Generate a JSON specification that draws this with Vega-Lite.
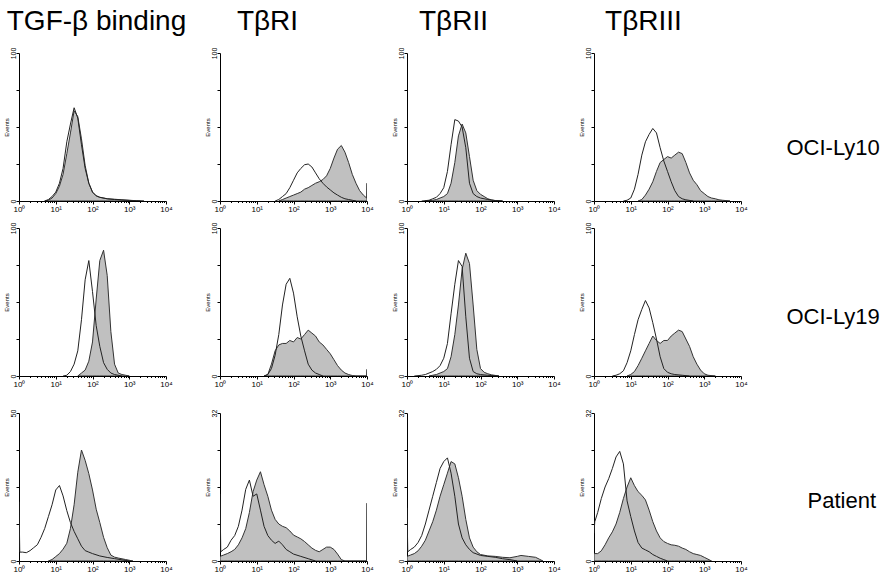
{
"$schema":"https://vega.github.io/schema/vega-lite/v6.json",
"padding":{"left":3,"top":8,"right":0,"bottom":0},
"background":"white",
"datasets":{
"A1s":[{"x":5.01,"y":0},{"x":6.31,"y":0.5},{"x":7.94,"y":2},{"x":10,"y":5},{"x":12.6,"y":10},{"x":15.8,"y":18},{"x":20,"y":32},{"x":25.1,"y":46},{"x":31.6,"y":61},{"x":39.8,"y":57},{"x":50.1,"y":42},{"x":63.1,"y":24},{"x":79.4,"y":12},{"x":100,"y":6},{"x":126,"y":3.5},{"x":158,"y":2.5},{"x":251,"y":1.5},{"x":398,"y":1.2},{"x":631,"y":0.8},{"x":1000,"y":0.5},{"x":1580,"y":0.2},{"x":2510,"y":0}],
"A1c":[{"x":5.01,"y":0},{"x":6.31,"y":1},{"x":7.94,"y":3},{"x":10,"y":6},{"x":12.6,"y":12},{"x":15.8,"y":22},{"x":20,"y":40},{"x":25.1,"y":52},{"x":31.6,"y":63},{"x":39.8,"y":56},{"x":50.1,"y":38},{"x":63.1,"y":22},{"x":79.4,"y":12},{"x":100,"y":6},{"x":126,"y":3.5},{"x":158,"y":2.5},{"x":251,"y":1.5},{"x":398,"y":1},{"x":631,"y":0.7},{"x":1000,"y":0.4},{"x":2000,"y":0}],
"B1s":[{"x":39.8,"y":0},{"x":50.1,"y":1},{"x":63.1,"y":2},{"x":79.4,"y":3},{"x":100,"y":4},{"x":126,"y":5},{"x":158,"y":6},{"x":200,"y":8},{"x":251,"y":9},{"x":316,"y":10.5},{"x":398,"y":12},{"x":501,"y":13},{"x":631,"y":14.5},{"x":794,"y":17},{"x":1000,"y":22},{"x":1260,"y":29},{"x":1580,"y":35},{"x":2000,"y":37.5},{"x":2510,"y":33},{"x":3160,"y":26},{"x":3980,"y":18},{"x":5010,"y":12},{"x":6310,"y":7},{"x":7940,"y":4},{"x":9770,"y":2},{"x":10000,"y":12}],
"B1c":[{"x":31.6,"y":0},{"x":39.8,"y":1},{"x":50.1,"y":3},{"x":63.1,"y":5},{"x":79.4,"y":9},{"x":100,"y":14},{"x":126,"y":19},{"x":158,"y":22},{"x":200,"y":24.5},{"x":251,"y":25},{"x":316,"y":23},{"x":398,"y":19},{"x":501,"y":15},{"x":631,"y":12},{"x":794,"y":9.5},{"x":1000,"y":7.5},{"x":1260,"y":5.5},{"x":1580,"y":4},{"x":2000,"y":2.5},{"x":2510,"y":1.5},{"x":3160,"y":1},{"x":3980,"y":0.5},{"x":5010,"y":0}],
"C1s":[{"x":3.16,"y":0},{"x":5.01,"y":0.5},{"x":6.31,"y":1},{"x":7.94,"y":2},{"x":10,"y":3},{"x":12.6,"y":5},{"x":15.8,"y":12},{"x":20,"y":26},{"x":25.1,"y":44},{"x":31.6,"y":52},{"x":39.8,"y":46},{"x":50.1,"y":30},{"x":63.1,"y":14},{"x":79.4,"y":7},{"x":100,"y":4.5},{"x":126,"y":3},{"x":158,"y":1.5},{"x":200,"y":0.7},{"x":251,"y":0.3},{"x":398,"y":0}],
"C1c":[{"x":2.51,"y":0},{"x":3.98,"y":0.5},{"x":5.01,"y":1.5},{"x":6.31,"y":2.5},{"x":7.94,"y":5},{"x":10,"y":9},{"x":12.6,"y":20},{"x":15.8,"y":38},{"x":20,"y":55},{"x":25.1,"y":54},{"x":31.6,"y":50},{"x":39.8,"y":36},{"x":50.1,"y":12},{"x":63.1,"y":5},{"x":79.4,"y":3},{"x":100,"y":2},{"x":158,"y":1},{"x":251,"y":0.3},{"x":398,"y":0}],
"D1s":[{"x":15.8,"y":0},{"x":20,"y":1},{"x":25.1,"y":4},{"x":31.6,"y":8},{"x":39.8,"y":13},{"x":50.1,"y":20},{"x":63.1,"y":26},{"x":79.4,"y":28},{"x":100,"y":30},{"x":126,"y":29},{"x":158,"y":31},{"x":200,"y":33},{"x":251,"y":32},{"x":316,"y":26},{"x":398,"y":19},{"x":501,"y":14},{"x":631,"y":11},{"x":794,"y":7},{"x":1000,"y":5},{"x":1260,"y":3},{"x":1580,"y":2},{"x":2000,"y":1.5},{"x":2510,"y":0.8},{"x":3160,"y":0.5},{"x":5010,"y":0}],
"D1c":[{"x":6.31,"y":0},{"x":7.94,"y":0.5},{"x":10,"y":2},{"x":12.6,"y":8},{"x":15.8,"y":18},{"x":20,"y":31},{"x":25.1,"y":40},{"x":31.6,"y":45},{"x":39.8,"y":49},{"x":50.1,"y":46},{"x":63.1,"y":36},{"x":79.4,"y":27},{"x":100,"y":20},{"x":126,"y":13},{"x":158,"y":7},{"x":200,"y":3},{"x":251,"y":1.5},{"x":316,"y":0.8},{"x":501,"y":0}],
"A2s":[{"x":39.8,"y":0},{"x":50.1,"y":2},{"x":63.1,"y":4},{"x":79.4,"y":10},{"x":100,"y":23},{"x":126,"y":52},{"x":158,"y":78},{"x":200,"y":85},{"x":251,"y":68},{"x":316,"y":30},{"x":398,"y":8},{"x":501,"y":2},{"x":631,"y":1},{"x":794,"y":0.5},{"x":1000,"y":0}],
"A2c":[{"x":15.8,"y":0},{"x":20,"y":0.5},{"x":25.1,"y":3},{"x":31.6,"y":8},{"x":39.8,"y":17},{"x":50.1,"y":38},{"x":63.1,"y":65},{"x":79.4,"y":78},{"x":100,"y":57},{"x":126,"y":34},{"x":158,"y":20},{"x":200,"y":9},{"x":251,"y":4.5},{"x":316,"y":2},{"x":398,"y":1},{"x":631,"y":0}],
"B2s":[{"x":15.8,"y":0},{"x":20,"y":1},{"x":25.1,"y":8},{"x":31.6,"y":17},{"x":39.8,"y":21},{"x":50.1,"y":22},{"x":63.1,"y":22},{"x":79.4,"y":24},{"x":100,"y":23},{"x":126,"y":26},{"x":158,"y":25},{"x":200,"y":28},{"x":251,"y":31},{"x":316,"y":29},{"x":398,"y":27},{"x":501,"y":23},{"x":631,"y":21},{"x":794,"y":18},{"x":1000,"y":15},{"x":1260,"y":11},{"x":1580,"y":7},{"x":2000,"y":4},{"x":2510,"y":2},{"x":3160,"y":1},{"x":3980,"y":0.3},{"x":5010,"y":0},{"x":9770,"y":0},{"x":10000,"y":4.5}],
"B2c":[{"x":15.8,"y":0},{"x":20,"y":1},{"x":25.1,"y":5},{"x":31.6,"y":14},{"x":39.8,"y":28},{"x":50.1,"y":48},{"x":63.1,"y":62},{"x":79.4,"y":66},{"x":100,"y":56},{"x":126,"y":40},{"x":158,"y":27},{"x":200,"y":17},{"x":251,"y":8},{"x":316,"y":4},{"x":398,"y":2},{"x":501,"y":1},{"x":631,"y":0}],
"C2s":[{"x":3.98,"y":0},{"x":5.01,"y":0.5},{"x":6.31,"y":1},{"x":7.94,"y":2},{"x":10,"y":3},{"x":12.6,"y":5},{"x":15.8,"y":13},{"x":20,"y":28},{"x":25.1,"y":48},{"x":31.6,"y":72},{"x":39.8,"y":83},{"x":50.1,"y":76},{"x":63.1,"y":48},{"x":79.4,"y":18},{"x":100,"y":5},{"x":126,"y":2.5},{"x":158,"y":1.5},{"x":200,"y":0.8},{"x":316,"y":0}],
"C2c":[{"x":1.58,"y":0},{"x":2.51,"y":0.5},{"x":3.16,"y":1},{"x":3.98,"y":2},{"x":5.01,"y":3},{"x":6.31,"y":4.5},{"x":7.94,"y":7},{"x":10,"y":12},{"x":12.6,"y":22},{"x":15.8,"y":42},{"x":20,"y":62},{"x":25.1,"y":78},{"x":31.6,"y":74},{"x":39.8,"y":40},{"x":50.1,"y":12},{"x":63.1,"y":3},{"x":79.4,"y":1.5},{"x":100,"y":1},{"x":158,"y":0.5},{"x":316,"y":0}],
"D2s":[{"x":7.94,"y":0},{"x":10,"y":1},{"x":12.6,"y":3},{"x":15.8,"y":7},{"x":20,"y":12},{"x":25.1,"y":17},{"x":31.6,"y":22},{"x":39.8,"y":27},{"x":50.1,"y":24},{"x":63.1,"y":22},{"x":79.4,"y":24},{"x":100,"y":24},{"x":126,"y":27},{"x":158,"y":29},{"x":200,"y":31},{"x":251,"y":30},{"x":316,"y":25},{"x":398,"y":20},{"x":501,"y":13},{"x":631,"y":8},{"x":794,"y":4},{"x":1000,"y":1.5},{"x":1260,"y":0.5},{"x":2000,"y":0}],
"D2c":[{"x":3.16,"y":0},{"x":3.98,"y":0.5},{"x":5.01,"y":1.5},{"x":6.31,"y":3.5},{"x":7.94,"y":9},{"x":10,"y":17},{"x":12.6,"y":28},{"x":15.8,"y":38},{"x":20,"y":45},{"x":25.1,"y":51},{"x":31.6,"y":46},{"x":39.8,"y":36},{"x":50.1,"y":25},{"x":63.1,"y":13},{"x":79.4,"y":5},{"x":100,"y":2.5},{"x":126,"y":1.5},{"x":158,"y":1},{"x":251,"y":0.5},{"x":398,"y":0}],
"A3s":[{"x":6.31,"y":0},{"x":7.94,"y":0.5},{"x":10,"y":1.5},{"x":12.6,"y":2.5},{"x":15.8,"y":4},{"x":20,"y":6},{"x":25.1,"y":11},{"x":31.6,"y":19},{"x":39.8,"y":30},{"x":50.1,"y":37.5},{"x":63.1,"y":34},{"x":79.4,"y":29.5},{"x":100,"y":24},{"x":126,"y":17.5},{"x":158,"y":13},{"x":200,"y":8},{"x":251,"y":4.5},{"x":316,"y":2},{"x":398,"y":1.3},{"x":501,"y":1},{"x":794,"y":0.5},{"x":1260,"y":0}],
"A3c":[{"x":1,"y":20},{"x":1.05,"y":3},{"x":1.26,"y":3},{"x":1.58,"y":2.8},{"x":2,"y":3.5},{"x":2.51,"y":4.5},{"x":3.16,"y":5.5},{"x":3.98,"y":8},{"x":5.01,"y":11},{"x":6.31,"y":15},{"x":7.94,"y":19},{"x":10,"y":24},{"x":12.6,"y":25.5},{"x":15.8,"y":22},{"x":20,"y":17},{"x":25.1,"y":13},{"x":31.6,"y":10},{"x":39.8,"y":7.5},{"x":50.1,"y":5},{"x":63.1,"y":3.5},{"x":79.4,"y":3},{"x":100,"y":2.5},{"x":158,"y":1.7},{"x":251,"y":1.2},{"x":398,"y":0.8},{"x":631,"y":0.4},{"x":1000,"y":0}],
"B3s":[{"x":1,"y":1},{"x":1.26,"y":1.3},{"x":1.58,"y":1.6},{"x":2,"y":2},{"x":2.51,"y":2.5},{"x":3.16,"y":3.5},{"x":3.98,"y":5},{"x":5.01,"y":7},{"x":6.31,"y":10.5},{"x":7.94,"y":15},{"x":10,"y":17.5},{"x":12.6,"y":19.3},{"x":15.8,"y":16.5},{"x":20,"y":14},{"x":25.1,"y":11},{"x":31.6,"y":9},{"x":39.8,"y":8},{"x":50.1,"y":7.5},{"x":63.1,"y":7.2},{"x":79.4,"y":6.5},{"x":100,"y":5.6},{"x":126,"y":5.2},{"x":158,"y":4.8},{"x":200,"y":4.2},{"x":251,"y":3.5},{"x":316,"y":2.8},{"x":398,"y":2.3},{"x":501,"y":2},{"x":631,"y":2.5},{"x":794,"y":3},{"x":1000,"y":3},{"x":1260,"y":2.5},{"x":1580,"y":1.5},{"x":2000,"y":0.3},{"x":2510,"y":0},{"x":9770,"y":0},{"x":10000,"y":12.5}],
"B3c":[{"x":1,"y":14.5},{"x":1.05,"y":2},{"x":1.26,"y":2.5},{"x":1.58,"y":3},{"x":2,"y":4.5},{"x":2.51,"y":5.5},{"x":3.16,"y":7.5},{"x":3.98,"y":11},{"x":5.01,"y":15.5},{"x":6.31,"y":17.5},{"x":7.94,"y":14},{"x":10,"y":14.5},{"x":12.6,"y":11},{"x":15.8,"y":7.5},{"x":20,"y":5.5},{"x":25.1,"y":4.5},{"x":31.6,"y":3.8},{"x":39.8,"y":4.3},{"x":50.1,"y":3.5},{"x":63.1,"y":2.5},{"x":79.4,"y":2},{"x":100,"y":1.5},{"x":158,"y":1},{"x":251,"y":0.5},{"x":398,"y":0}],
"C3s":[{"x":1,"y":1},{"x":1.26,"y":1.3},{"x":1.58,"y":1.6},{"x":2,"y":2.2},{"x":2.51,"y":3.2},{"x":3.16,"y":4.5},{"x":3.98,"y":6.5},{"x":5.01,"y":8.5},{"x":6.31,"y":11},{"x":7.94,"y":14},{"x":10,"y":16.5},{"x":12.6,"y":19},{"x":15.8,"y":21.5},{"x":20,"y":21},{"x":25.1,"y":18},{"x":31.6,"y":14},{"x":39.8,"y":9},{"x":50.1,"y":5},{"x":63.1,"y":3},{"x":79.4,"y":2},{"x":100,"y":1.4},{"x":158,"y":1.1},{"x":251,"y":1},{"x":398,"y":0.8},{"x":631,"y":0.7},{"x":1000,"y":1},{"x":1260,"y":1.2},{"x":2000,"y":1},{"x":3160,"y":0.8},{"x":3980,"y":0.4},{"x":5010,"y":0}],
"C3c":[{"x":1,"y":11.5},{"x":1.05,"y":2},{"x":1.26,"y":2.5},{"x":1.58,"y":3},{"x":2,"y":4},{"x":2.51,"y":5.5},{"x":3.16,"y":8},{"x":3.98,"y":11},{"x":5.01,"y":14},{"x":6.31,"y":17},{"x":7.94,"y":20},{"x":10,"y":21.5},{"x":12.6,"y":22.3},{"x":15.8,"y":19},{"x":20,"y":14},{"x":25.1,"y":8},{"x":31.6,"y":5},{"x":39.8,"y":3.5},{"x":50.1,"y":2.5},{"x":63.1,"y":1.8},{"x":100,"y":1.2},{"x":158,"y":1},{"x":251,"y":0.8},{"x":398,"y":0.5},{"x":631,"y":0.3},{"x":1000,"y":0}],
"D3s":[{"x":1,"y":1.6},{"x":1.26,"y":1.6},{"x":1.58,"y":2.2},{"x":2,"y":3.5},{"x":2.51,"y":5},{"x":3.16,"y":6.3},{"x":3.98,"y":8},{"x":5.01,"y":10.5},{"x":6.31,"y":13.5},{"x":7.94,"y":16},{"x":10,"y":18},{"x":12.6,"y":16.3},{"x":15.8,"y":15},{"x":20,"y":14.2},{"x":25.1,"y":13.2},{"x":31.6,"y":11},{"x":39.8,"y":8.5},{"x":50.1,"y":6.5},{"x":63.1,"y":5},{"x":79.4,"y":4.2},{"x":100,"y":3.8},{"x":126,"y":3.5},{"x":158,"y":3.4},{"x":200,"y":3.2},{"x":251,"y":2.8},{"x":316,"y":2.5},{"x":398,"y":2},{"x":501,"y":1.6},{"x":631,"y":1.4},{"x":794,"y":1.2},{"x":1000,"y":0.8},{"x":1260,"y":0.4},{"x":1580,"y":0}],
"D3c":[{"x":1,"y":6},{"x":1.05,"y":8.5},{"x":1.26,"y":10.5},{"x":1.58,"y":13.5},{"x":2,"y":16},{"x":2.51,"y":17.8},{"x":3.16,"y":20},{"x":3.98,"y":22.5},{"x":5.01,"y":23.7},{"x":6.31,"y":21},{"x":7.94,"y":13},{"x":10,"y":9.6},{"x":12.6,"y":6.5},{"x":15.8,"y":4},{"x":20,"y":2.8},{"x":25.1,"y":2.4},{"x":31.6,"y":2},{"x":39.8,"y":1.4},{"x":50.1,"y":1},{"x":63.1,"y":0.6},{"x":79.4,"y":0.3},{"x":100,"y":0}]
},
"vconcat":[
{"vconcat":[
{"bounds":"flush","hconcat":[
{"width":147,"height":148,"title":{"text":"TGF-β binding","dx":4},
"encoding":{"x":{"field":"x","type":"quantitative","scale":{"type":"log","domain":[1,10000],"nice":false},"axis":{"title":null,"values":[1,2,3,4,5,6,7,8,9,10,20,30,40,50,60,70,80,90,100,200,300,400,500,600,700,800,900,1000,2000,3000,4000,5000,6000,7000,8000,9000,10000],"labelExpr":"datum.value==1?'10⁰':datum.value==10?'10¹':datum.value==100?'10²':datum.value==1000?'10³':datum.value==10000?'10⁴':''","tickSize":{"condition":{"test":"indexof([1,10,100,1000,10000],datum.value)>=0","value":3},"value":1.5},"labelOverlap":false,"labelFlush":false}},
"y":{"field":"y","type":"quantitative","scale":{"domain":[0,100],"nice":false},"axis":{"title":"Events","values":[0,25,50,75,100],"labelExpr":"datum.value==0||datum.value==100?datum.label:''"}}},
"layer":[{"data":{"name":"A1s"},"mark":{"type":"area","fill":"#c0c0c0","stroke":"#333333","strokeWidth":1,"clip":true}},{"data":{"name":"A1c"},"mark":{"type":"line","stroke":"#222222","strokeWidth":1,"clip":true}}]},
{"bounds":"flush","hconcat":[
{"width":147,"height":148,"title":{"text":"TβRI","dx":-26},
"encoding":{"x":{"field":"x","type":"quantitative","scale":{"type":"log","domain":[1,10000],"nice":false},"axis":{"title":null,"values":[1,2,3,4,5,6,7,8,9,10,20,30,40,50,60,70,80,90,100,200,300,400,500,600,700,800,900,1000,2000,3000,4000,5000,6000,7000,8000,9000,10000],"labelExpr":"datum.value==1?'10⁰':datum.value==10?'10¹':datum.value==100?'10²':datum.value==1000?'10³':datum.value==10000?'10⁴':''","tickSize":{"condition":{"test":"indexof([1,10,100,1000,10000],datum.value)>=0","value":3},"value":1.5},"labelOverlap":false,"labelFlush":false}},
"y":{"field":"y","type":"quantitative","scale":{"domain":[0,100],"nice":false},"axis":{"title":"Events","values":[0,25,50,75,100],"labelExpr":"datum.value==0||datum.value==100?datum.label:''"}}},
"layer":[{"data":{"name":"B1s"},"mark":{"type":"area","fill":"#c0c0c0","stroke":"#333333","strokeWidth":1,"clip":true}},{"data":{"name":"B1c"},"mark":{"type":"line","stroke":"#222222","strokeWidth":1,"clip":true}}]},
{"width":147,"height":148,"title":{"text":"TβRII","dx":-27},
"encoding":{"x":{"field":"x","type":"quantitative","scale":{"type":"log","domain":[1,10000],"nice":false},"axis":{"title":null,"values":[1,2,3,4,5,6,7,8,9,10,20,30,40,50,60,70,80,90,100,200,300,400,500,600,700,800,900,1000,2000,3000,4000,5000,6000,7000,8000,9000,10000],"labelExpr":"datum.value==1?'10⁰':datum.value==10?'10¹':datum.value==100?'10²':datum.value==1000?'10³':datum.value==10000?'10⁴':''","tickSize":{"condition":{"test":"indexof([1,10,100,1000,10000],datum.value)>=0","value":3},"value":1.5},"labelOverlap":false,"labelFlush":false}},
"y":{"field":"y","type":"quantitative","scale":{"domain":[0,100],"nice":false},"axis":{"title":"Events","values":[0,25,50,75,100],"labelExpr":"datum.value==0||datum.value==100?datum.label:''"}}},
"layer":[{"data":{"name":"C1s"},"mark":{"type":"area","fill":"#c0c0c0","stroke":"#333333","strokeWidth":1,"clip":true}},{"data":{"name":"C1c"},"mark":{"type":"line","stroke":"#222222","strokeWidth":1,"clip":true}}]},
{"width":147,"height":148,"title":{"text":"TβRIII","dx":-24},
"encoding":{"x":{"field":"x","type":"quantitative","scale":{"type":"log","domain":[1,10000],"nice":false},"axis":{"title":null,"values":[1,2,3,4,5,6,7,8,9,10,20,30,40,50,60,70,80,90,100,200,300,400,500,600,700,800,900,1000,2000,3000,4000,5000,6000,7000,8000,9000,10000],"labelExpr":"datum.value==1?'10⁰':datum.value==10?'10¹':datum.value==100?'10²':datum.value==1000?'10³':datum.value==10000?'10⁴':''","tickSize":{"condition":{"test":"indexof([1,10,100,1000,10000],datum.value)>=0","value":3},"value":1.5},"labelOverlap":false,"labelFlush":false}},
"y":{"field":"y","type":"quantitative","scale":{"domain":[0,100],"nice":false},"axis":{"title":"Events","values":[0,25,50,75,100],"labelExpr":"datum.value==0||datum.value==100?datum.label:''"}}},
"layer":[{"layer":[{"data":{"name":"D1s"},"mark":{"type":"area","fill":"#c0c0c0","stroke":"#333333","strokeWidth":1,"clip":true}},{"data":{"name":"D1c"},"mark":{"type":"line","stroke":"#222222","strokeWidth":1,"clip":true}}]},
{"data":{"name":"D1c"},"mark":{"type":"line","opacity":0},"encoding":{"y":{"field":"y","type":"quantitative","scale":{"domain":[0,100],"nice":false},"axis":{"orient":"right","title":"OCI-Ly10","domain":false,"ticks":false,"labels":false,"titleAngle":0,"titleAlign":"left","titleBaseline":"middle","titleFontSize":22,"titleX":45,"titleY":94}}}}],
"resolve":{"axis":{"y":"independent"}}}
],"spacing":40}
],"spacing":54},
{"bounds":"flush","hconcat":[
{"width":147,"height":148,
"encoding":{"x":{"field":"x","type":"quantitative","scale":{"type":"log","domain":[1,10000],"nice":false},"axis":{"title":null,"values":[1,2,3,4,5,6,7,8,9,10,20,30,40,50,60,70,80,90,100,200,300,400,500,600,700,800,900,1000,2000,3000,4000,5000,6000,7000,8000,9000,10000],"labelExpr":"datum.value==1?'10⁰':datum.value==10?'10¹':datum.value==100?'10²':datum.value==1000?'10³':datum.value==10000?'10⁴':''","tickSize":{"condition":{"test":"indexof([1,10,100,1000,10000],datum.value)>=0","value":3},"value":1.5},"labelOverlap":false,"labelFlush":false}},
"y":{"field":"y","type":"quantitative","scale":{"domain":[0,100],"nice":false},"axis":{"title":"Events","values":[0,25,50,75,100],"labelExpr":"datum.value==0||datum.value==100?datum.label:''"}}},
"layer":[{"data":{"name":"A2s"},"mark":{"type":"area","fill":"#c0c0c0","stroke":"#333333","strokeWidth":1,"clip":true}},{"data":{"name":"A2c"},"mark":{"type":"line","stroke":"#222222","strokeWidth":1,"clip":true}}]},
{"bounds":"flush","hconcat":[
{"width":147,"height":148,
"encoding":{"x":{"field":"x","type":"quantitative","scale":{"type":"log","domain":[1,10000],"nice":false},"axis":{"title":null,"values":[1,2,3,4,5,6,7,8,9,10,20,30,40,50,60,70,80,90,100,200,300,400,500,600,700,800,900,1000,2000,3000,4000,5000,6000,7000,8000,9000,10000],"labelExpr":"datum.value==1?'10⁰':datum.value==10?'10¹':datum.value==100?'10²':datum.value==1000?'10³':datum.value==10000?'10⁴':''","tickSize":{"condition":{"test":"indexof([1,10,100,1000,10000],datum.value)>=0","value":3},"value":1.5},"labelOverlap":false,"labelFlush":false}},
"y":{"field":"y","type":"quantitative","scale":{"domain":[0,100],"nice":false},"axis":{"title":"Events","values":[0,25,50,75,100],"labelExpr":"datum.value==0||datum.value==100?datum.label:''"}}},
"layer":[{"data":{"name":"B2s"},"mark":{"type":"area","fill":"#c0c0c0","stroke":"#333333","strokeWidth":1,"clip":true}},{"data":{"name":"B2c"},"mark":{"type":"line","stroke":"#222222","strokeWidth":1,"clip":true}}]},
{"width":147,"height":148,
"encoding":{"x":{"field":"x","type":"quantitative","scale":{"type":"log","domain":[1,10000],"nice":false},"axis":{"title":null,"values":[1,2,3,4,5,6,7,8,9,10,20,30,40,50,60,70,80,90,100,200,300,400,500,600,700,800,900,1000,2000,3000,4000,5000,6000,7000,8000,9000,10000],"labelExpr":"datum.value==1?'10⁰':datum.value==10?'10¹':datum.value==100?'10²':datum.value==1000?'10³':datum.value==10000?'10⁴':''","tickSize":{"condition":{"test":"indexof([1,10,100,1000,10000],datum.value)>=0","value":3},"value":1.5},"labelOverlap":false,"labelFlush":false}},
"y":{"field":"y","type":"quantitative","scale":{"domain":[0,100],"nice":false},"axis":{"title":"Events","values":[0,25,50,75,100],"labelExpr":"datum.value==0||datum.value==100?datum.label:''"}}},
"layer":[{"data":{"name":"C2s"},"mark":{"type":"area","fill":"#c0c0c0","stroke":"#333333","strokeWidth":1,"clip":true}},{"data":{"name":"C2c"},"mark":{"type":"line","stroke":"#222222","strokeWidth":1,"clip":true}}]},
{"width":147,"height":148,
"encoding":{"x":{"field":"x","type":"quantitative","scale":{"type":"log","domain":[1,10000],"nice":false},"axis":{"title":null,"values":[1,2,3,4,5,6,7,8,9,10,20,30,40,50,60,70,80,90,100,200,300,400,500,600,700,800,900,1000,2000,3000,4000,5000,6000,7000,8000,9000,10000],"labelExpr":"datum.value==1?'10⁰':datum.value==10?'10¹':datum.value==100?'10²':datum.value==1000?'10³':datum.value==10000?'10⁴':''","tickSize":{"condition":{"test":"indexof([1,10,100,1000,10000],datum.value)>=0","value":3},"value":1.5},"labelOverlap":false,"labelFlush":false}},
"y":{"field":"y","type":"quantitative","scale":{"domain":[0,100],"nice":false},"axis":{"title":"Events","values":[0,25,50,75,100],"labelExpr":"datum.value==0||datum.value==100?datum.label:''"}}},
"layer":[{"layer":[{"data":{"name":"D2s"},"mark":{"type":"area","fill":"#c0c0c0","stroke":"#333333","strokeWidth":1,"clip":true}},{"data":{"name":"D2c"},"mark":{"type":"line","stroke":"#222222","strokeWidth":1,"clip":true}}]},
{"data":{"name":"D2c"},"mark":{"type":"line","opacity":0},"encoding":{"y":{"field":"y","type":"quantitative","scale":{"domain":[0,100],"nice":false},"axis":{"orient":"right","title":"OCI-Ly19","domain":false,"ticks":false,"labels":false,"titleAngle":0,"titleAlign":"left","titleBaseline":"middle","titleFontSize":22,"titleX":45,"titleY":88}}}}],
"resolve":{"axis":{"y":"independent"}}}
],"spacing":40}
],"spacing":54}
],"spacing":9},
{"bounds":"flush","hconcat":[
{"width":147,"height":148,
"encoding":{"x":{"field":"x","type":"quantitative","scale":{"type":"log","domain":[1,10000],"nice":false},"axis":{"title":null,"values":[1,2,3,4,5,6,7,8,9,10,20,30,40,50,60,70,80,90,100,200,300,400,500,600,700,800,900,1000,2000,3000,4000,5000,6000,7000,8000,9000,10000],"labelExpr":"datum.value==1?'10⁰':datum.value==10?'10¹':datum.value==100?'10²':datum.value==1000?'10³':datum.value==10000?'10⁴':''","tickSize":{"condition":{"test":"indexof([1,10,100,1000,10000],datum.value)>=0","value":3},"value":1.5},"labelOverlap":false,"labelFlush":false}},
"y":{"field":"y","type":"quantitative","scale":{"domain":[0,50],"nice":false},"axis":{"title":"Events","values":[0,12.5,25,37.5,50],"labelExpr":"datum.value==0||datum.value==50?datum.label:''"}}},
"layer":[{"data":{"name":"A3s"},"mark":{"type":"area","fill":"#c0c0c0","stroke":"#333333","strokeWidth":1,"clip":true}},{"data":{"name":"A3c"},"mark":{"type":"line","stroke":"#222222","strokeWidth":1,"clip":true}}]},
{"bounds":"flush","hconcat":[
{"width":147,"height":148,
"encoding":{"x":{"field":"x","type":"quantitative","scale":{"type":"log","domain":[1,10000],"nice":false},"axis":{"title":null,"values":[1,2,3,4,5,6,7,8,9,10,20,30,40,50,60,70,80,90,100,200,300,400,500,600,700,800,900,1000,2000,3000,4000,5000,6000,7000,8000,9000,10000],"labelExpr":"datum.value==1?'10⁰':datum.value==10?'10¹':datum.value==100?'10²':datum.value==1000?'10³':datum.value==10000?'10⁴':''","tickSize":{"condition":{"test":"indexof([1,10,100,1000,10000],datum.value)>=0","value":3},"value":1.5},"labelOverlap":false,"labelFlush":false}},
"y":{"field":"y","type":"quantitative","scale":{"domain":[0,32],"nice":false},"axis":{"title":"Events","values":[0,8,16,24,32],"labelExpr":"datum.value==0||datum.value==32?datum.label:''"}}},
"layer":[{"data":{"name":"B3s"},"mark":{"type":"area","fill":"#c0c0c0","stroke":"#333333","strokeWidth":1,"clip":true}},{"data":{"name":"B3c"},"mark":{"type":"line","stroke":"#222222","strokeWidth":1,"clip":true}}]},
{"width":147,"height":148,
"encoding":{"x":{"field":"x","type":"quantitative","scale":{"type":"log","domain":[1,10000],"nice":false},"axis":{"title":null,"values":[1,2,3,4,5,6,7,8,9,10,20,30,40,50,60,70,80,90,100,200,300,400,500,600,700,800,900,1000,2000,3000,4000,5000,6000,7000,8000,9000,10000],"labelExpr":"datum.value==1?'10⁰':datum.value==10?'10¹':datum.value==100?'10²':datum.value==1000?'10³':datum.value==10000?'10⁴':''","tickSize":{"condition":{"test":"indexof([1,10,100,1000,10000],datum.value)>=0","value":3},"value":1.5},"labelOverlap":false,"labelFlush":false}},
"y":{"field":"y","type":"quantitative","scale":{"domain":[0,32],"nice":false},"axis":{"title":"Events","values":[0,8,16,24,32],"labelExpr":"datum.value==0||datum.value==32?datum.label:''"}}},
"layer":[{"data":{"name":"C3s"},"mark":{"type":"area","fill":"#c0c0c0","stroke":"#333333","strokeWidth":1,"clip":true}},{"data":{"name":"C3c"},"mark":{"type":"line","stroke":"#222222","strokeWidth":1,"clip":true}}]},
{"width":147,"height":148,
"encoding":{"x":{"field":"x","type":"quantitative","scale":{"type":"log","domain":[1,10000],"nice":false},"axis":{"title":null,"values":[1,2,3,4,5,6,7,8,9,10,20,30,40,50,60,70,80,90,100,200,300,400,500,600,700,800,900,1000,2000,3000,4000,5000,6000,7000,8000,9000,10000],"labelExpr":"datum.value==1?'10⁰':datum.value==10?'10¹':datum.value==100?'10²':datum.value==1000?'10³':datum.value==10000?'10⁴':''","tickSize":{"condition":{"test":"indexof([1,10,100,1000,10000],datum.value)>=0","value":3},"value":1.5},"labelOverlap":false,"labelFlush":false}},
"y":{"field":"y","type":"quantitative","scale":{"domain":[0,32],"nice":false},"axis":{"title":"Events","values":[0,8,16,24,32],"labelExpr":"datum.value==0||datum.value==32?datum.label:''"}}},
"layer":[{"layer":[{"data":{"name":"D3s"},"mark":{"type":"area","fill":"#c0c0c0","stroke":"#333333","strokeWidth":1,"clip":true}},{"data":{"name":"D3c"},"mark":{"type":"line","stroke":"#222222","strokeWidth":1,"clip":true}}]},
{"data":{"name":"D3c"},"mark":{"type":"line","opacity":0},"encoding":{"y":{"field":"y","type":"quantitative","scale":{"domain":[0,32],"nice":false},"axis":{"orient":"right","title":"Patient","domain":false,"ticks":false,"labels":false,"titleAngle":0,"titleAlign":"left","titleBaseline":"middle","titleFontSize":22,"titleX":66,"titleY":87}}}}],
"resolve":{"axis":{"y":"independent"}}}
],"spacing":40}
],"spacing":54}
],
"spacing":21,
"config":{
"font":"Liberation Sans",
"view":{"stroke":null},
"title":{"fontSize":28,"fontWeight":"normal","color":"#000000","anchor":"middle","frame":"group","offset":11,"font":"Liberation Sans"},
"axis":{"grid":false,"domainColor":"#000000","domainWidth":1,"tickColor":"#000000","tickWidth":1,"labelColor":"#000000","titleColor":"#000000","labelFont":"Liberation Sans","titleFont":"Liberation Sans","titleFontWeight":"normal"},
"axisX":{"labelFontSize":8,"labelPadding":1},
"axisY":{"tickSize":3,"labelAngle":-90,"labelFontSize":7,"labelPadding":0,"titleFontSize":6,"titlePadding":0}
}
}
